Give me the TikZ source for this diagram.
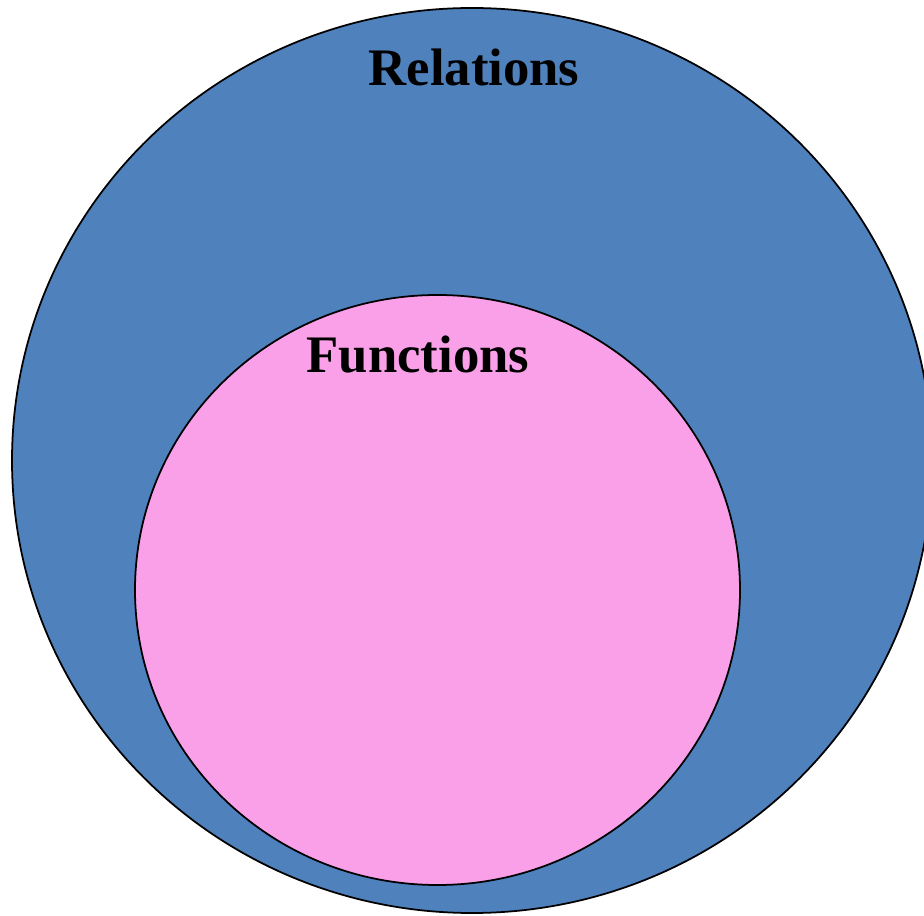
\documentclass[tikz,border=0pt]{standalone}
\usepackage{fontspec}
\setmainfont{Liberation Serif}
\usepackage{tikz}

\definecolor{relblue}{RGB}{79,129,189}
\definecolor{funpink}{RGB}{250,160,232}

\tikzset{
  setlabel/.style={font=\fontsize{15}{18}\selectfont\bfseries, anchor=base, inner sep=0pt},
  setline/.style={draw=black, line width=0.5pt}
}

\begin{document}
\begin{tikzpicture}
    \useasboundingbox (0,0) rectangle (9.24,9.15);
    \coordinate (R) at (4.72,4.545);
    \coordinate (F) at (4.375,3.25);
    \filldraw[setline, fill=relblue] (R) ellipse [x radius=4.60, y radius=4.525];
    \filldraw[setline, fill=funpink] (F) ellipse [x radius=3.025, y radius=2.95];
    \node[setlabel] (rel) at (4.74,8.29) {Relations};
    \node[setlabel] (fun) at (4.18,5.42) {Functions};
\end{tikzpicture}
\end{document}
